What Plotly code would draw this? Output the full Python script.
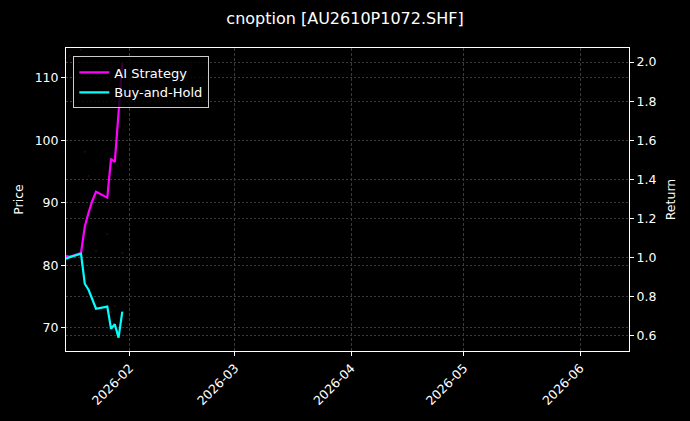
import plotly.graph_objects as go

dates = ["2026-01-15", "2026-01-16", "2026-01-19", "2026-01-20", "2026-01-21", "2026-01-22",
         "2026-01-23", "2026-01-26", "2026-01-27", "2026-01-28", "2026-01-29", "2026-01-30"]
ai_strategy = [1.010, 1.005, 1.024, 1.158, 1.230, 1.290, 1.337, 1.307, 1.506, 1.490, 1.740, 1.996]
buy_hold = [0.995, 1.003, 1.020, 0.867, 0.836, 0.790, 0.739, 0.750, 0.637, 0.660, 0.591, 0.724]
price = [112.6, 113.5, 114.5, 98.2, 94.3, 90.1, 82.3, 85.0, 72.5, 73.5, 68.5, 82.0]

price_range = [66.3, 114.8]
return_range = [0.523, 2.072]
x_range = ["2026-01-15", "2026-06-14"]
return_ticks = [0.6, 0.8, 1.0, 1.2, 1.4, 1.6, 1.8, 2.0]
price_ticks = [70, 80, 90, 100, 110]

FONT = "DejaVu Sans"
GRID = "#3a3a3a"

fig = go.Figure()
fig.add_trace(go.Scatter(x=dates, y=price, mode="markers", yaxis="y",
                         marker=dict(size=2, color="rgba(110,20,20,0.45)"),
                         showlegend=False, hoverinfo="skip"))
fig.add_trace(go.Scatter(x=dates, y=ai_strategy, mode="lines", name="AI Strategy",
                         yaxis="y2", line=dict(color="#ff00ff", width=2.2)))
fig.add_trace(go.Scatter(x=dates, y=buy_hold, mode="lines", name="Buy-and-Hold",
                         yaxis="y2", line=dict(color="#00ffff", width=2.2)))

fig.update_layout(
    width=690, height=421,
    paper_bgcolor="black", plot_bgcolor="black",
    margin=dict(l=66, r=61, t=48, b=70),
    font=dict(family=FONT, color="white", size=12),
    title=dict(text="cnoption [AU2610P1072.SHF]", x=0.5, xanchor="center",
               y=0.957, yanchor="middle", font=dict(size=16, color="white", family=FONT)),
    xaxis=dict(type="date", range=x_range, tickformat="%Y-%m", dtick="M1",
               tick0="2026-02-01", tickangle=-45, ticks="outside", ticklen=4,
               tickcolor="white", tickfont=dict(size=12.5, color="white"),
               showline=True, linecolor="white", linewidth=1, mirror=True,
               showgrid=True, gridcolor=GRID, gridwidth=0.5, griddash="3px,2px",
               zeroline=False),
    yaxis=dict(range=price_range, tickvals=price_ticks, ticks="outside", ticklen=4,
               tickcolor="white", tickfont=dict(size=12.5, color="white"),
               title=dict(text="Price", font=dict(size=12.5, color="white"), standoff=8),
               showline=True, linecolor="white", linewidth=1,
               showgrid=True, gridcolor=GRID, gridwidth=0.5, griddash="2px,2px",
               zeroline=False),
    yaxis2=dict(range=return_range, tickvals=return_ticks, tickformat=".1f",
                overlaying="y", side="right", ticks="outside", ticklen=4,
                tickcolor="white", tickfont=dict(size=12.5, color="white"),
                title=dict(text="Return", font=dict(size=12.5, color="white"), standoff=10),
                showline=True, linecolor="white", linewidth=1,
                showgrid=True, gridcolor=GRID, gridwidth=0.5, griddash="2px,2px",
                zeroline=False),
    legend=dict(x=0.013, y=0.972, xanchor="left", yanchor="top",
                bgcolor="rgba(0,0,0,0.8)", bordercolor="#cccccc", borderwidth=1,
                font=dict(size=13, color="white"), tracegroupgap=2,
                itemwidth=30),
    showlegend=True,
)

fig.write_html("out.html", config={"displayModeBar": False},
               post_script="document.body.style.margin='0';document.body.style.overflow='hidden';document.body.style.background='black';")
